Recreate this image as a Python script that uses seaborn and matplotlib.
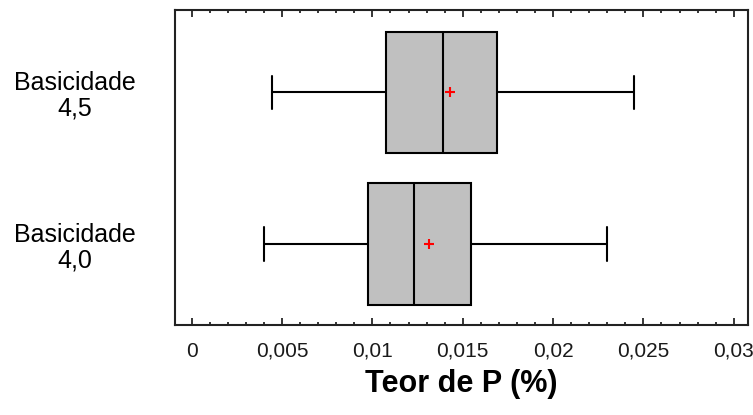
import pandas as pd
import matplotlib.pyplot as plt
import matplotlib.ticker as mticker
import seaborn as sns

# five-number summaries (min, q1, median, q3, max)
groups = ["Basicidade\n4,5", "Basicidade\n4,0"]
stats_45 = [0.00444, 0.01075, 0.0139, 0.01688, 0.0245]
stats_40 = [0.0040, 0.00977, 0.0123, 0.01546, 0.02297]
means = [0.01431, 0.01313]
xticks = [0, 0.005, 0.01, 0.015, 0.02, 0.025, 0.03]
xtick_labels = ["0", "0,005", "0,01", "0,015", "0,02", "0,025", "0,03"]

data = pd.DataFrame({
    "grupo": [groups[0]] * 5 + [groups[1]] * 5,
    "teor": stats_45 + stats_40,
})
mean_df = pd.DataFrame({"grupo": groups, "teor": means})

sns.set_style("white")
plt.rcParams["font.family"] = ["Liberation Sans", "DejaVu Sans"]

fig = plt.figure(figsize=(7.53, 4.15), dpi=100)
ax = fig.add_axes([0.2324, 0.2169, 0.761, 0.759])

sns.boxplot(data=data, x="teor", y="grupo", order=groups, whis=(0, 100),
            width=0.8, color="#c0c0c0", linecolor="black", linewidth=1.5,
            capwidths=0.22, ax=ax)
for p in ax.patches:
    p.set_facecolor("#c0c0c0")
    p.set_edgecolor("black")
sns.scatterplot(data=mean_df, x="teor", y="grupo", marker="+", s=60,
                color="red", linewidth=1.5, ax=ax, zorder=5)

ax.set_xlim(-0.000924, 0.03079)
ax.set_ylim(1.534, -0.543)
ax.set_xticks(xticks)
ax.set_xticklabels(xtick_labels, fontsize=15, color="#1a1a1a")
ax.xaxis.set_minor_locator(mticker.MultipleLocator(0.001))
ax.tick_params(axis="x", which="major", direction="in", length=5, width=1.3,
               top=True, bottom=True, pad=12)
ax.tick_params(axis="x", which="minor", direction="in", length=2, width=1.3,
               top=True, bottom=True)
ax.tick_params(axis="y", length=0, pad=72, labelsize=18, labelcolor="black")
for lab in ax.get_yticklabels():
    lab.set_multialignment("center")
    lab.set_horizontalalignment("center")
    lab.set_linespacing(1.1)
for sp in ax.spines.values():
    sp.set_linewidth(1.5)
    sp.set_color("#222222")
    sp.set_visible(True)

ax.set_ylabel("")
ax.set_xlabel("Teor de P (%)", fontsize=22, fontweight="bold", labelpad=6,
              color="black")

fig.savefig("out.png", dpi=100)
